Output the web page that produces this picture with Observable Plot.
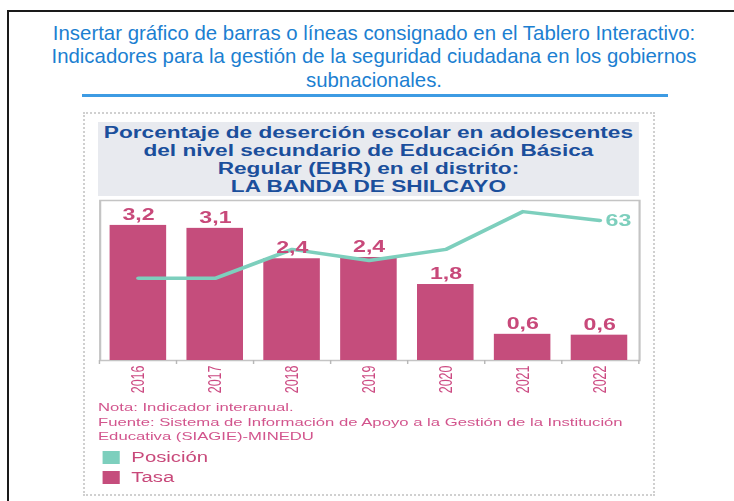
<!DOCTYPE html>
<html>
<head>
<meta charset="utf-8">
<script src="https://cdn.jsdelivr.net/npm/d3@7"></script>
<script src="https://cdn.jsdelivr.net/npm/@observablehq/plot@0.6"></script>
<style>
  html, body { margin: 0; padding: 0; background: #fff; }
  body { width: 734px; height: 501px; position: relative; overflow: hidden; font-family: "Liberation Sans", Arial, sans-serif; }
  #box { position: absolute; left: 7px; top: 10px; width: 800px; height: 600px; border: 2px solid #1a1a1a; box-sizing: border-box; }
  #head { position: absolute; left: 14px; width: 720px; top: 21.5px; text-align: center; color: #1c7fd1; font-size: 20.4px; line-height: 23.6px; }
  #rule { position: absolute; left: 82px; top: 94px; width: 586px; height: 3px; background: #3d9be3; }
  #dots { position: absolute; left: 83px; top: 112px; width: 572px; height: 384px; border: 2px dotted #d0d0d0; box-sizing: border-box; }
  #inner { position: absolute; left: 98.3px; top: 122px; width: 374px; height: 380px; transform: scaleX(1.45); transform-origin: 0 0; }
  #title { position: absolute; left: 0; top: 0; width: 373px; height: 74px; box-sizing: border-box; padding-top: 2px; background: #e8eaef; color: #1b4f9c; font-weight: bold; font-size: 15.6px; line-height: 18px; text-align: center; }
  #chart { position: absolute; left: 0; top: 77px; }
  #notes { position: absolute; left: 0; top: 278px; width: 374px; color: #d2558d; font-size: 11.5px; line-height: 14.5px; white-space: nowrap; }
  #legend { position: absolute; left: 3px; top: 325px; color: #c8497a; font-size: 14px; }
  .item { height: 20px; display: flex; align-items: center; }
  .sw { width: 12px; height: 13px; margin-right: 8px; }
</style>
</head>
<body>
<div id="box"></div>
<div id="head">Insertar gráfico de barras o líneas consignado en el Tablero Interactivo:<br>Indicadores para la gestión de la seguridad ciudadana en los gobiernos<br>subnacionales.</div>
<div id="rule"></div>
<div id="dots"></div>
<div id="inner">
  <div id="title">Porcentaje de deserción escolar en adolescentes<br>del nivel secundario de Educación Básica<br>Regular (EBR) en el distrito:<br>LA BANDA DE SHILCAYO</div>
  <div id="chart"></div>
  <div id="notes">Nota: Indicador interanual.<br>Fuente: Sistema de Información de Apoyo a la Gestión de la Institución<br>Educativa (SIAGIE)-MINEDU</div>
  <div id="legend"></div>
</div>
<script>
// ---- data ----
const years = ["2016", "2017", "2018", "2019", "2020", "2021", "2022"];
const tasa = [3.2, 3.13, 2.41, 2.44, 1.8, 0.62, 0.6];       // bars (Tasa, %)
const posicion = [37, 37, 50, 45, 50, 67, 63];              // line (Posición)
const seriesNames = ["Posición", "Tasa"];
const seriesColors = ["#7dcfbd", "#c54d7c"];

const tasaMax = 3.79;   // primary (bar) axis top
const posMax = 72;      // secondary (line) axis top

const data = years.map((y, i) => ({year: y, tasa: tasa[i], pos: posicion[i]}));
const fmt = v => d3.format(".1f")(v).replace(".", ",");
const posY = d => d.pos * tasaMax / posMax;

const edgeTicks = (index, scales, values, dims) => {
  const {width, height, marginLeft, marginRight, marginBottom} = dims;
  const n = years.length;
  const y0 = height - marginBottom;
  const g = d3.create("svg:g").attr("stroke", "#b8b8b8").attr("stroke-width", 1);
  for (let i = 0; i <= n; i++) {
    const x = marginLeft + i * (width - marginLeft - marginRight) / n;
    g.append("line").attr("x1", x).attr("x2", x).attr("y1", y0).attr("y2", y0 + 4);
  }
  return g.node();
};

const chart = Plot.plot({
  width: 374,
  height: 201,
  marginTop: 1,
  marginBottom: 40,
  marginLeft: 1,
  marginRight: 1,
  style: {fontFamily: '"Liberation Sans", Arial, sans-serif', background: "transparent", overflow: "visible"},
  x: {domain: years, paddingInner: 0.26, paddingOuter: 0.13, axis: null},
  y: {domain: [0, tasaMax], axis: null},
  marks: [
    Plot.frame({stroke: "#c4c4c4", strokeWidth: 1.5}),
    Plot.barY(data, {x: "year", y: "tasa", fill: seriesColors[1]}),
    Plot.line(data, {x: "year", y: posY, stroke: seriesColors[0], strokeWidth: 3.5, strokeLinejoin: "round"}),
    Plot.text(data, {x: "year", y: "tasa", text: d => fmt(d.tasa), lineAnchor: "bottom", dy: -5.5, fill: "#c8497a", fontWeight: "bold", fontSize: 16}),
    Plot.text(data.slice(-1), {x: "year", y: posY, text: d => String(d.pos), textAnchor: "start", lineAnchor: "middle", dx: 4, fill: seriesColors[0], fontWeight: "bold", fontSize: 16}),
    Plot.axisX({tickSize: 0, tickPadding: 5, tickRotate: -90, fill: "#cc4a82", fontSize: 12.5, label: null}),
    edgeTicks
  ]
});
document.getElementById("chart").appendChild(chart);

const legend = document.getElementById("legend");
seriesNames.forEach((name, i) => {
  const it = document.createElement("div");
  it.className = "item";
  const sw = document.createElement("span");
  sw.className = "sw";
  sw.style.background = seriesColors[i];
  const lb = document.createElement("span");
  lb.textContent = name;
  it.appendChild(sw); it.appendChild(lb);
  legend.appendChild(it);
});
</script>
</body>
</html>
